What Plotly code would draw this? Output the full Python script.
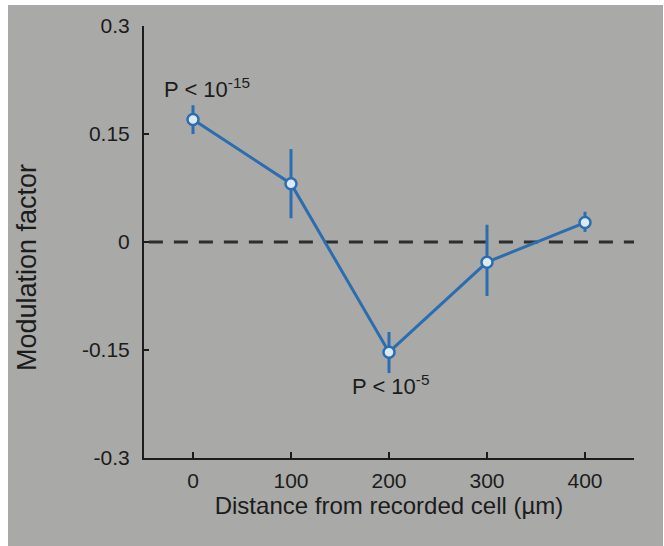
import plotly.graph_objects as go

# ---- data ----
distance_um = [0, 100, 200, 300, 400]
modulation = [0.170, 0.081, -0.153, -0.028, 0.027]
err_plus = [0.020, 0.048, 0.028, 0.052, 0.015]
err_minus = [0.020, 0.048, 0.029, 0.047, 0.013]

y_ticks = [-0.3, -0.15, 0, 0.15, 0.3]
y_tick_labels = ["-0.3", "-0.15", "0", "0.15", "0.3"]
x_ticks = [0, 100, 200, 300, 400]
x_tick_labels = ["0", "100", "200", "300", "400"]

ref_level = 0
ref_x = [-45, 450]

annot_texts = ["P < 10<sup>-15</sup>", "P < 10<sup>-5</sup>"]
annot_x = [-32, 160]
annot_y = [0.214, -0.199]

x_title = "Distance from recorded cell (µm)"
y_title = "Modulation factor"

# ---- styling ----
W, H = 664, 546
L, R, T, B = 144, 30, 26, 88
GRAY = "#a9a9a7"
BLUE = "#2c6db0"
INK = "#1c1c1c"
FONT = "Liberation Sans, Arial, sans-serif"

fig = go.Figure()

fig.add_trace(go.Scatter(
    x=ref_x, y=[ref_level, ref_level], mode="lines",
    line=dict(color="#2e2e2e", width=3, dash="14px,11px"),
    showlegend=False, hoverinfo="skip",
))

fig.add_trace(go.Scatter(
    x=distance_um, y=modulation, mode="lines+markers",
    line=dict(color=BLUE, width=3),
    marker=dict(symbol="circle", size=11, color="#dbe9f3",
                line=dict(color=BLUE, width=2.5)),
    error_y=dict(type="data", symmetric=False, array=err_plus,
                 arrayminus=err_minus, color=BLUE, thickness=3, width=0),
    showlegend=False, hoverinfo="skip",
))

pw = W - L - R
ph = H - T - B

def px_x(p):
    return (p - L) / pw

def px_y(p):
    return (H - B - p) / ph

shapes = [
    # white margins of the photographed slide
    dict(type="rect", xref="paper", yref="paper",
         x0=px_x(-5), x1=px_x(8), y0=px_y(-5), y1=px_y(H + 5),
         fillcolor="white", line=dict(width=0), layer="below"),
    dict(type="rect", xref="paper", yref="paper",
         x0=px_x(-5), x1=px_x(W + 5), y0=px_y(5), y1=px_y(-5),
         fillcolor="white", line=dict(width=0), layer="below"),
    dict(type="rect", xref="paper", yref="paper",
         x0=px_x(W - 1), x1=px_x(W + 5), y0=px_y(-5), y1=px_y(H + 5),
         fillcolor="white", line=dict(width=0), layer="below"),
]

annotations = []
for t, ax, ay in zip(annot_texts, annot_x, annot_y):
    annotations.append(dict(x=ax, y=ay, xref="x", yref="y", text=t,
                            showarrow=False, xanchor="left", yanchor="middle",
                            font=dict(family=FONT, size=22, color=INK)))

# y-axis title placed like the slide (lower than the plot centre)
annotations.append(dict(x=px_x(27), y=px_y(268), xref="paper", yref="paper",
                        text=y_title, textangle=-90, showarrow=False,
                        xanchor="center", yanchor="middle",
                        font=dict(family=FONT, size=27, color=INK)))

fig.update_layout(
    width=W, height=H,
    margin=dict(l=L, r=R, t=T, b=B),
    paper_bgcolor=GRAY, plot_bgcolor=GRAY,
    font=dict(family=FONT, color=INK),
    shapes=shapes, annotations=annotations,
    xaxis=dict(range=[-50, 450], tickvals=x_ticks, ticktext=x_tick_labels,
               ticks="inside", ticklen=6, tickwidth=2, tickcolor=INK,
               showline=True, linewidth=2, linecolor=INK,
               showgrid=False, zeroline=False,
               tickfont=dict(size=21, color=INK), ticklabelstandoff=3,
               title=dict(text=x_title, font=dict(size=24, color=INK), standoff=6)),
    yaxis=dict(range=[-0.3, 0.3], tickvals=y_ticks, ticktext=y_tick_labels,
               ticks="inside", ticklen=5, tickwidth=2, tickcolor=INK,
               showline=True, linewidth=2, linecolor=INK,
               showgrid=False, zeroline=False,
               tickfont=dict(size=21, color=INK), ticklabelstandoff=8),
)

fig.write_html("out.html")
